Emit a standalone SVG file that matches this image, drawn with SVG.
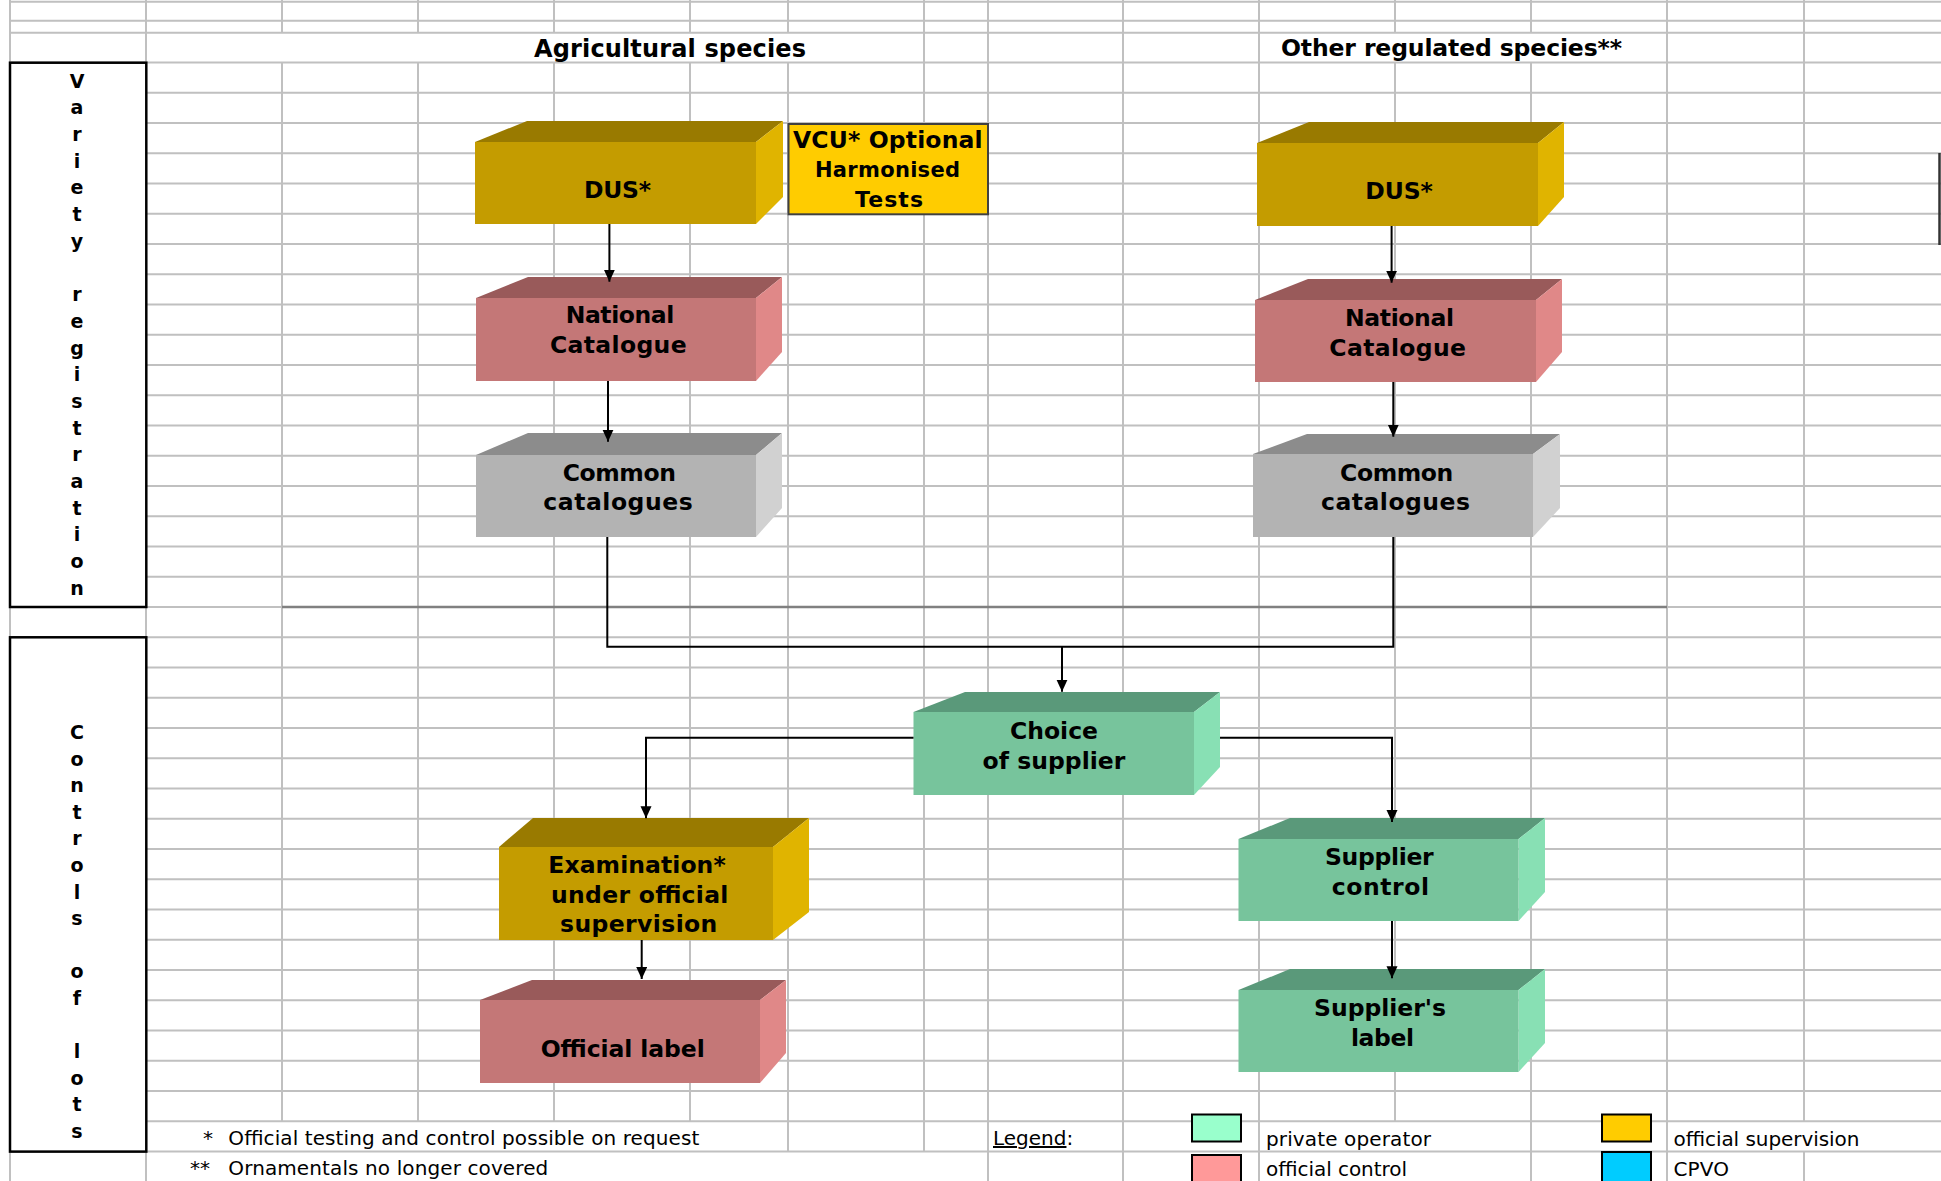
<svg xmlns="http://www.w3.org/2000/svg" width="1941" height="1181" viewBox="0 0 1941 1181">
<style>
.grid{stroke:#c0c0c0;stroke-width:2;fill:none}
.sep{stroke:#808080;stroke-width:2.5;fill:none}
.side{fill:#fff;stroke:#000;stroke-width:2.5}
.vl{font-family:"DejaVu Sans",sans-serif;font-weight:bold;font-size:19px;text-anchor:middle;fill:#000}
.hd{font-family:"DejaVu Sans",sans-serif;font-weight:bold;font-size:24px;fill:#000}
.bx{font-family:"DejaVu Sans",sans-serif;font-weight:bold;font-size:23.5px;text-anchor:middle;fill:#000}
.bg{font-family:"DejaVu Sans",sans-serif;font-weight:bold;font-size:23.5px;text-anchor:middle;fill:#000}
.ft{font-family:"DejaVu Sans",sans-serif;font-size:20px;fill:#000}
.gold-f{fill:#C49C00}.gold-t{fill:#997A00}.gold-s{fill:#E0B400}
.pink-f{fill:#C47777}.pink-t{fill:#995A5A}.pink-s{fill:#E08888}
.gray-f{fill:#B3B3B3}.gray-t{fill:#8C8C8C}.gray-s{fill:#D1D1D1}
.grn-f{fill:#77C49C}.grn-t{fill:#5A997A}.grn-s{fill:#88E0B4}
.conn{stroke:#000;stroke-width:2;fill:none}
.sw{stroke:#000;stroke-width:2}
</style>
<defs>
<marker id="arr" markerUnits="userSpaceOnUse" markerWidth="12" markerHeight="12" refX="12" refY="5.5" orient="auto">
<path d="M0,0 L12,5.5 L0,11 z" fill="#000"/>
</marker>
</defs>
<rect x="0" y="0" width="1941" height="1181" fill="#fff"/>
<g id="grid">
<path class="grid" d="M10,1.7H1941M10,20.7H1941M10,32.7H1941
M10,62.5H1941M10,92.75H1941M10,123H1941M10,153.25H1941M10,183.5H1941M10,213.75H1941M10,244H1941M10,274.25H1941M10,304.5H1941M10,334.75H1941M10,365H1941M10,395.25H1941M10,425.5H1941M10,455.75H1941M10,486H1941M10,516.25H1941M10,546.5H1941M10,576.75H1941M10,607H1941M10,637.25H1941M10,667.5H1941M10,697.75H1941M10,728H1941M10,758.25H1941M10,788.5H1941M10,818.75H1941M10,849H1941M10,879.25H1941M10,909.5H1941M10,939.75H1941M10,970H1941M10,1000.25H1941M10,1030.5H1941M10,1060.75H1941M10,1091H1941M10,1121.25H1941M10,1151.5H1941"/>
<path class="grid" d="M10,0V1181M146,0V1181
M282,0V32.7M282,62.5V1121.25
M418,0V32.7M418,62.5V1121.25
M554,0V32.7M554,62.5V1121.25
M690,0V32.7M690,62.5V1121.25
M788,0V32.7M788,62.5V1151.5
M924,0V1151.5
M988,0V1181
M1123,0V1181
M1259,0V1181
M1395,0V32.7M1395,62.5V1121.25
M1531,0V32.7M1531,62.5V1181
M1667,0V1181
M1804,0V1121.25M1804,1151.5V1181"/>
<path class="sep" d="M282,607H1667"/>
<path d="M1939.5,153V245" stroke="#333" stroke-width="2.5"/>
</g>
<g id="header">
<text class="hd" x="534" y="56.5" textLength="272">Agricultural species</text>
<text class="hd" x="1281" y="56" textLength="341" style="font-size:23.5px">Other regulated species**</text>
</g>
<g id="variety-registration">
<rect class="side" x="10" y="62.7" width="136.3" height="544.3"/>
<text class="vl"><tspan x="77" y="87.5">V</tspan><tspan x="77" y="114.2">a</tspan><tspan x="77" y="140.9">r</tspan><tspan x="77" y="167.6">i</tspan><tspan x="77" y="194.3">e</tspan><tspan x="77" y="221">t</tspan><tspan x="77" y="247.7">y</tspan><tspan x="77" y="301.1">r</tspan><tspan x="77" y="327.8">e</tspan><tspan x="77" y="354.5">g</tspan><tspan x="77" y="381.2">i</tspan><tspan x="77" y="407.9">s</tspan><tspan x="77" y="434.6">t</tspan><tspan x="77" y="461.3">r</tspan><tspan x="77" y="488">a</tspan><tspan x="77" y="514.7">t</tspan><tspan x="77" y="541.4">i</tspan><tspan x="77" y="568.1">o</tspan><tspan x="77" y="594.8">n</tspan></text>
</g>
<g id="controls-of-lots">
<rect class="side" x="10" y="637.3" width="136.3" height="514.3"/>
<text class="vl"><tspan x="77" y="739">C</tspan><tspan x="77" y="765.6">o</tspan><tspan x="77" y="792.2">n</tspan><tspan x="77" y="818.8">t</tspan><tspan x="77" y="845.4">r</tspan><tspan x="77" y="872">o</tspan><tspan x="77" y="898.6">l</tspan><tspan x="77" y="925.2">s</tspan><tspan x="77" y="978.4">o</tspan><tspan x="77" y="1005">f</tspan><tspan x="77" y="1058.2">l</tspan><tspan x="77" y="1084.8">o</tspan><tspan x="77" y="1111.4">t</tspan><tspan x="77" y="1138">s</tspan></text>
</g>
<g id="dus-agri">
<polygon class="gold-t" points="475,142 527,121 783,121 756,142"/>
<polygon class="gold-s" points="756,142 783,121 783,197 756,224"/>
<rect class="gold-f" x="475" y="142" width="281" height="82"/>
<text class="bg" x="617.5" y="198" textLength="67">DUS*</text>
</g>
<g id="nc-agri">
<polygon class="pink-t" points="476,298 528,277 782,277 756,298"/>
<polygon class="pink-s" points="756,298 782,277 782,352 756,381"/>
<rect class="pink-f" x="476" y="298" width="280" height="83"/>
<text class="bx" x="620" y="323.3" textLength="108.6">National</text>
<text class="bx" x="618.3" y="353.3" textLength="136.7">Catalogue</text>
</g>
<g id="cc-agri">
<polygon class="gray-t" points="476,455 528,433 782,433 756,455"/>
<polygon class="gray-s" points="756,455 782,433 782,508 756,537"/>
<rect class="gray-f" x="476" y="455" width="280" height="82"/>
<text class="bx" x="619.3" y="481" textLength="113.3">Common</text>
<text class="bx" x="618" y="510" textLength="149.4">catalogues</text>
</g>
<g id="vcu">
<rect x="788.5" y="124" width="199.5" height="90.3" fill="#FFCC00" stroke="#404040" stroke-width="2"/>
<text class="bx" x="887.8" y="148.3" textLength="189.6">VCU* Optional</text>
<text class="bx" x="887.5" y="176.7" textLength="145" style="font-size:21px">Harmonised</text>
<text class="bx" x="889" y="207.3" textLength="68" style="font-size:22px">Tests</text>
</g>
<g id="dus-other">
<polygon class="gold-t" points="1257,143 1309,122 1564,122 1538,143"/>
<polygon class="gold-s" points="1538,143 1564,122 1564,197 1538,226"/>
<rect class="gold-f" x="1257" y="143" width="281" height="83"/>
<text class="bg" x="1399" y="199.3" textLength="67.5">DUS*</text>
</g>
<g id="nc-other">
<polygon class="pink-t" points="1255,300 1308,279 1562,279 1536,300"/>
<polygon class="pink-s" points="1536,300 1562,279 1562,352 1536,382"/>
<rect class="pink-f" x="1255" y="300" width="281" height="82"/>
<text class="bx" x="1399.5" y="325.7" textLength="109">National</text>
<text class="bx" x="1397.7" y="355.7" textLength="136.7">Catalogue</text>
</g>
<g id="cc-other">
<polygon class="gray-t" points="1253,454 1307,434 1560,434 1533,454"/>
<polygon class="gray-s" points="1533,454 1560,434 1560,508 1533,537"/>
<rect class="gray-f" x="1253" y="454" width="280" height="83"/>
<text class="bx" x="1396.7" y="480.7" textLength="113.3">Common</text>
<text class="bx" x="1395.5" y="510" textLength="149">catalogues</text>
</g>
<g id="choice-of-supplier">
<polygon class="grn-t" points="913.5,712 965,692 1220,692 1194,712"/>
<polygon class="grn-s" points="1194,712 1220,692 1220,767 1194,795"/>
<rect class="grn-f" x="913.5" y="712" width="280.5" height="83"/>
<text class="bg" x="1054" y="739.3" textLength="88">Choice</text>
<text class="bg" x="1054" y="769" textLength="142.8">of supplier</text>
</g>
<g id="examination">
<polygon class="gold-t" points="499,847 533,818 809,818 773,847"/>
<polygon class="gold-s" points="773,847 809,818 809,912 773,940"/>
<rect class="gold-f" x="499" y="847" width="274" height="93"/>
<text class="bx" x="637" y="873.3" textLength="177.4">Examination*</text>
<text class="bx" x="639.7" y="903.3" textLength="177.3">under official</text>
<text class="bx" x="638.7" y="931.7" textLength="157.3">supervision</text>
</g>
<g id="official-label">
<polygon class="pink-t" points="480,1000 532,980 786,980 760,1000"/>
<polygon class="pink-s" points="760,1000 786,980 786,1053 760,1083"/>
<rect class="pink-f" x="480" y="1000" width="280" height="83"/>
<text class="bg" x="622.7" y="1056.7" textLength="164">Official label</text>
</g>
<g id="supplier-control">
<polygon class="grn-t" points="1238.5,839 1290,818 1545,818 1518.5,839"/>
<polygon class="grn-s" points="1518.5,839 1545,818 1545,892 1518.5,921"/>
<rect class="grn-f" x="1238.5" y="839" width="280" height="82"/>
<text class="bg" x="1379.3" y="865" textLength="108.6">Supplier</text>
<text class="bg" x="1380.4" y="895" textLength="97.2">control</text>
</g>
<g id="suppliers-label">
<polygon class="grn-t" points="1238.5,990 1290,969 1545,969 1518.5,990"/>
<polygon class="grn-s" points="1518.5,990 1545,969 1545,1043 1518.5,1072"/>
<rect class="grn-f" x="1238.5" y="990" width="280" height="82"/>
<text class="bg" x="1380" y="1016" textLength="132">Supplier's</text>
<text class="bg" x="1382.5" y="1046" textLength="63">label</text>
</g>
<g id="connectors">
<path class="conn" d="M609.4,224V281.7" marker-end="url(#arr)"/>
<path class="conn" d="M608,381V441.7" marker-end="url(#arr)"/>
<path class="conn" d="M1391.6,226V282.7" marker-end="url(#arr)"/>
<path class="conn" d="M1393.3,382V436.7" marker-end="url(#arr)"/>
<path class="conn" d="M607.3,537V646.7H1393.3V537"/>
<path class="conn" d="M1062,646.7V691.7" marker-end="url(#arr)"/>
<path class="conn" d="M913.5,737.7H646V818.3" marker-end="url(#arr)"/>
<path class="conn" d="M1220,737.7H1392V822" marker-end="url(#arr)"/>
<path class="conn" d="M1392,921V978.3" marker-end="url(#arr)"/>
<path class="conn" d="M641.7,940V979" marker-end="url(#arr)"/>
</g>
<g id="footnotes">
<text class="ft" y="1145"><tspan x="203">*</tspan><tspan x="228.3" textLength="471">Official testing and control possible on request</tspan></text>
<text class="ft" y="1175"><tspan x="190">**</tspan><tspan x="228.3" textLength="320">Ornamentals no longer covered</tspan></text>
</g>
<g id="legend">
<text class="ft" x="993" y="1145"><tspan text-decoration="underline">Legend</tspan>:</text>
<rect class="sw" x="1192" y="1114.5" width="49" height="27" fill="#99FFCC"/>
<text class="ft" x="1266" y="1145.7" textLength="165">private operator</text>
<rect class="sw" x="1192" y="1155" width="49" height="28" fill="#FF9999"/>
<text class="ft" x="1266" y="1175.7" textLength="141">official control</text>
<rect class="sw" x="1602" y="1114.5" width="49" height="27" fill="#FFCC00"/>
<text class="ft" x="1673.5" y="1145.7" textLength="186">official supervision</text>
<rect class="sw" x="1602" y="1152" width="49" height="30" fill="#00CCFF"/>
<text class="ft" x="1673.5" y="1175.7" textLength="55.5">CPVO</text>
</g>
</svg>
